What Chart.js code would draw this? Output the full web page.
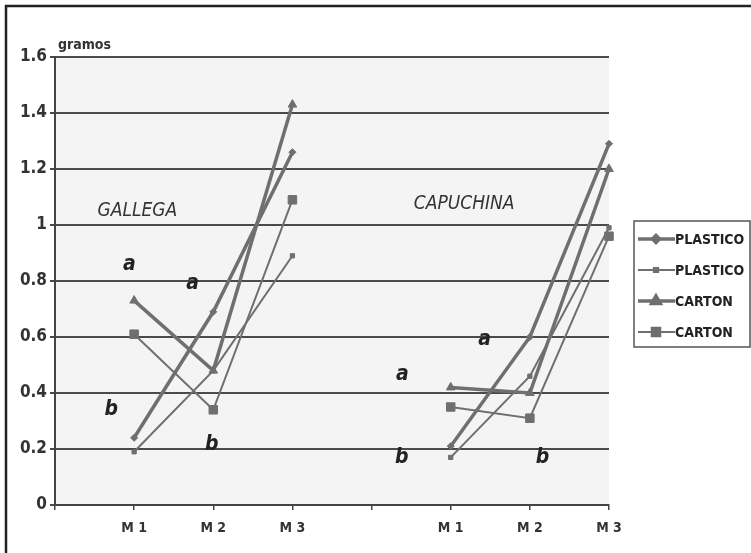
<!DOCTYPE html>
<html>
<head>
<meta charset="utf-8">
<script src="https://cdn.jsdelivr.net/npm/chart.js@4/dist/chart.umd.min.js"></script>
<style>
html,body{margin:0;padding:0;background:#fff;}
#wrap{width:751px;height:553px;position:relative;}
</style>
</head>
<body>
<div id="wrap"><canvas id="c" width="751" height="553"></canvas></div>
<script>
const categories = ["", "M 1", "M 2", "M 3", "", "M 1", "M 2", "M 3"];
const yTicks = [0, 0.2, 0.4, 0.6, 0.8, 1, 1.2, 1.4, 1.6];
const seriesNames = ["PLASTICO", "PLASTICO", "CARTON", "CARTON"];
// Gallega M1..M3, Capuchina M1..M3
const plastico1 = [null, 0.24, 0.69, 1.26, null, 0.21, 0.60, 1.29];
const plastico2 = [null, 0.19, 0.48, 0.89, null, 0.17, 0.46, 0.99];
const carton1   = [null, 0.73, 0.48, 1.43, null, 0.42, 0.40, 1.20];
const carton2   = [null, 0.61, 0.34, 1.09, null, 0.35, 0.31, 0.96];
// annotations: [text, category position, value]
const groupLabels = [["GALLEGA", 1.04, 1.05], ["CAPUCHINA", 5.17, 1.075]];
const letters = [["a", 0.94, 0.86], ["a", 1.74, 0.79], ["b", 0.71, 0.34], ["b", 1.98, 0.215],
                 ["a", 4.39, 0.465], ["a", 5.43, 0.59], ["b", 4.38, 0.17], ["b", 6.16, 0.17]];

const gray = "#6f6f6f";
const FONT = "'DejaVu Sans Condensed','Liberation Sans Narrow','Liberation Sans',Arial,sans-serif";

const styles = [
  {pointStyle:'rectRot', pointRadius:3.5, borderWidth:3.5},
  {pointStyle:'rect', pointRadius:3, borderWidth:2},
  {pointStyle:'triangle', pointRadius:5, borderWidth:3.5},
  {pointStyle:'rect', pointRadius:6, borderWidth:2}
];
const dataArrays = [plastico1, plastico2, carton1, carton2];

const datasets = dataArrays.map((d, i) => ({
  label: seriesNames[i],
  data: d,
  borderColor: gray,
  backgroundColor: gray,
  pointBackgroundColor: gray,
  pointBorderColor: gray,
  pointBorderWidth: 1,
  borderWidth: styles[i].borderWidth,
  pointStyle: styles[i].pointStyle,
  pointRadius: styles[i].pointRadius,
  spanGaps: false,
  tension: 0
}));

const bgPlugin = {
  id: 'bg',
  beforeDraw(chart) {
    const {ctx, chartArea: a} = chart;
    ctx.save();
    ctx.fillStyle = '#f4f4f4';
    ctx.fillRect(a.left, a.top, a.right - a.left, a.bottom - a.top);
    ctx.restore();
  },
  afterDraw(chart) {
    const {ctx, scales} = chart;
    const x = scales.x, y = scales.y;
    ctx.save();
    // outer frame
    ctx.strokeStyle = '#222';
    ctx.lineWidth = 2.5;
    ctx.strokeRect(6, 6, 760, 560);
    // unit label
    ctx.fillStyle = '#333';
    ctx.font = "bold 14px " + FONT;
    ctx.textAlign = 'left';
    ctx.textBaseline = 'alphabetic';
    ctx.fillText('gramos', 58, 49);
    // group labels
    ctx.font = "italic 19px " + FONT;
    ctx.textAlign = 'center';
    ctx.textBaseline = 'middle';
    ctx.fillStyle = '#333';
    groupLabels.forEach(g => ctx.fillText(g[0], x.getPixelForValue(g[1]), y.getPixelForValue(g[2])));
    ctx.font = "italic bold 21px " + FONT;
    ctx.fillStyle = '#222';
    letters.forEach(l => ctx.fillText(l[0], x.getPixelForValue(l[1]), y.getPixelForValue(l[2])));
    // legend
    const lx = 634, ly = 221, lw = 116, lh = 126;
    ctx.fillStyle = '#fff';
    ctx.fillRect(lx, ly, lw, lh);
    ctx.strokeStyle = '#555';
    ctx.lineWidth = 1.5;
    ctx.strokeRect(lx, ly, lw, lh);
    chart.data.datasets.forEach((ds, i) => {
      const cy = 239 + i * 31;
      ctx.strokeStyle = gray;
      ctx.lineWidth = ds.borderWidth;
      ctx.beginPath();
      ctx.moveTo(lx + 4, cy);
      ctx.lineTo(lx + 41, cy);
      ctx.stroke();
      Chart.helpers.drawPoint(ctx, {pointStyle: ds.pointStyle, radius: ds.pointRadius, borderWidth: 1, rotation: 0}, lx + 22, cy);
      ctx.fillStyle = gray;
      ctx.fill();
      ctx.fillStyle = '#222';
      ctx.font = "bold 14px " + FONT;
      ctx.textAlign = 'left';
      ctx.textBaseline = 'middle';
      ctx.fillText(ds.label, lx + 41, cy + 1);
    });
    ctx.restore();
  }
};

new Chart(document.getElementById('c'), {
  type: 'line',
  data: {labels: categories, datasets},
  plugins: [bgPlugin],
  options: {
    responsive: false,
    animation: false,
    layout: {padding: {left: 5, right: 142, top: 57, bottom: 0}},
    plugins: {legend: {display: false}, tooltip: {enabled: false}},
    scales: {
      x: {
        type: 'category',
        offset: false,
        afterFit(s) { s.height = 48; },
        grid: {display: true, drawOnChartArea: false, drawTicks: true, tickLength: 5, color: '#444', lineWidth: 1.5},
        border: {display: true, color: '#444', width: 2},
        ticks: {color: '#333', font: {family: FONT, size: 14, weight: 'bold'}, padding: 10, maxRotation: 0, autoSkip: false}
      },
      y: {
        min: 0, max: 1.6,
        afterFit(s) { s.width = 50; },
        afterBuildTicks(s) { s.ticks = yTicks.map(v => ({value: v})); },
        grid: {color: '#4a4a4a', lineWidth: 2, drawTicks: true, tickLength: 5},
        border: {display: true, color: '#444', width: 2},
        ticks: {color: '#333', font: {family: FONT, size: 17, weight: 'bold'}, padding: 3,
          callback: v => String(v)}
      }
    }
  }
});
</script>
</body>
</html>
